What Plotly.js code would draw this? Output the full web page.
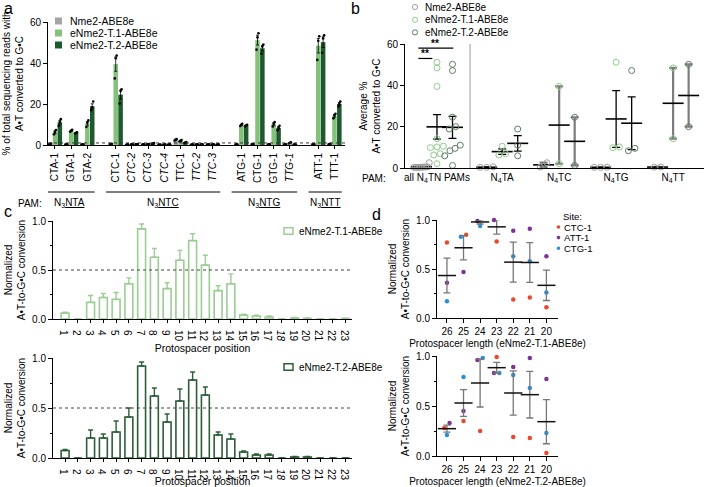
<!DOCTYPE html>
<html><head><meta charset="utf-8">
<script src="https://cdn.plot.ly/plotly-3.0.1.min.js"></script>
<style>html,body{margin:0;padding:0;background:#fff}#chart{width:704px;height:487px}</style>
</head><body><div id="chart"></div>
<script>
// ---------------- Panel a data ----------------
const sites = ["CTA-1","GTA-1","GTA-2","CTC-1","CTC-2","CTC-3","CTC-4","TTC-1","TTC-2","TTC-3","ATG-1","CTG-1","GTG-1","TTG-1","ATT-1","TTT-1"];
const siteGroup = [0,0,0,1,1,1,1,1,1,1,2,2,2,2,3,3];
const siteIsN4TN = [1,1,1,1,0,0,0,1,0,0,1,1,1,0,1,1];
const pamGroupsA = ["N<sub>3</sub><u>NTA</u>","N<sub>3</sub><u>NTC</u>","N<sub>3</sub><u>NTG</u>","N<sub>3</sub><u>NTT</u>"];
const seriesNames = ["Nme2-ABE8e","eNme2-T.1-ABE8e","eNme2-T.2-ABE8e"];
const nme2Reps = [[0.4,0.6,0.7],[0.2,0.3,0.4],[0.2,0.3,0.4],[0.3,0.5,0.6],[0.1,0.2,0.3],[0.2,0.3,0.4],[0.1,0.2,0.2],[2.2,2.6,2.9],[0.1,0.2,0.3],[0.2,0.2,0.3],[0.2,0.3,0.4],[0.3,0.4,0.5],[0.2,0.3,0.4],[0.2,0.3,0.3],[0.3,0.4,0.5],[0.4,0.5,0.6]];
const t1Reps = [[5.2,6.4,7.3],[6.5,6.9,7.4],[8.8,10.8,12.0],[32.5,42.3,43.6],[0.2,0.3,0.4],[0.3,0.4,0.5],[0.1,0.2,0.3],[1.7,2.1,2.4],[0.2,0.3,0.3],[0.2,0.3,0.4],[9.3,9.8,10.4],[46.5,52.5,54.5],[9.0,10.4,11.2],[0.8,1.1,1.3],[41.5,50.8,53.0],[13.0,14.4,15.2]];
const t2Reps = [[9.3,11.2,12.6],[5.6,5.9,6.2],[17.0,18.4,21.2],[20.2,26.3,27.2],[0.3,0.4,0.5],[0.5,0.8,1.0],[0.2,0.3,0.3],[1.0,1.2,1.5],[0.2,0.3,0.4],[0.2,0.3,0.3],[9.1,9.5,9.9],[44.5,48.0,49.0],[7.2,8.4,9.4],[0.2,0.3,0.4],[45.0,52.0,53.5],[18.8,20.0,21.2]];
const backgroundLevel = 1;

// ---------------- Panel b groups ----------------
const pamGroupsB = ["all N<sub>4</sub>TN PAMs","N<sub>4</sub>TA","N<sub>4</sub>TC","N<sub>4</sub>TG","N<sub>4</sub>TT"];

// ---------------- Panel c data ----------------
const positions = [1,2,3,4,5,6,7,8,9,10,11,12,13,14,15,16,17,18,19,20,21,22,23];
const positionLabels = ["1","2","3","4","5","6","7","8","9","10","11","12","13","14","15","16","17","<i>18</i>","19","20","21","22","23"];
const t1Norm    = [0.06,0,0.17,0.22,0.20,0.36,0.92,0.63,0.31,0.60,0.80,0.55,0.29,0.36,0.04,0.03,0.02,0,0.01,0.005,0,0,0.005];
const t1NormErr = [0.01,0,0.07,0.04,0.07,0.06,0.05,0.09,0.06,0.10,0.07,0.10,0.05,0.10,0.01,0.01,0.01,0,0.005,0.005,0,0,0.003];
const t2Norm    = [0.075,0,0.20,0.20,0.26,0.41,0.92,0.62,0.36,0.57,0.78,0.63,0.23,0.19,0.06,0.03,0.03,0,0.01,0.01,0,0,0];
const t2NormErr = [0.01,0,0.08,0.04,0.11,0.09,0.04,0.08,0.08,0.12,0.08,0.08,0.03,0.05,0.01,0.01,0.01,0,0.005,0.005,0,0,0];

// ---------------- Panel d data ----------------
const dLengths = ["26","25","24","23","22","21","20"];
const dSites = ["CTC-1","ATT-1","CTG-1"];
const dT1CTC1 = [0.77,0.85,1.01,0.78,0.19,0.21,0.11];
const dT1ATT1 = [0.36,0.47,0.99,1.00,0.89,0.91,0.63];
const dT1CTG1 = [0.17,0.83,0.94,1.01,0.63,0.58,0.26];
const dT2CTC1 = [0.28,0.35,0.25,0.99,0.19,0.18,0.03];
const dT2ATT1 = [0.33,0.45,0.96,0.83,0.89,0.98,0.77];
const dT2CTG1 = [0.21,0.79,0.98,0.83,0.81,0.68,0.23];

// ---------------- helpers / styles ----------------
const W = 704, H = 487;
const px = p => p / W;
const py = p => 1 - p / H;
const FONT = 'Liberation Sans, Arial, Helvetica, sans-serif';
const BLACK = '#000';
const mean = a => a.reduce((s, v) => s + v, 0) / a.length;
const sem = a => { const m = mean(a); const v = a.reduce((s, x) => s + (x - m) * (x - m), 0) / (a.length - 1); return Math.sqrt(v / a.length); };
function spread(vals, thr, step, maxW) {
  const idx = vals.map((v, i) => i).sort((a, b) => vals[a] - vals[b]);
  const offs = new Array(vals.length).fill(0);
  if (!idx.length) return offs;
  let cluster = [idx[0]];
  const flush = () => { const n = cluster.length; const st = n > 1 ? Math.min(step, maxW / (n - 1)) : 0; cluster.forEach((j, k) => offs[j] = (k - (n - 1) / 2) * st); };
  for (let q = 1; q < idx.length; q++) {
    const j = idx[q];
    if (vals[j] - vals[cluster[cluster.length - 1]] < thr) cluster.push(j); else { flush(); cluster = [j]; }
  }
  flush();
  return offs;
}
const traces = [];
const shapes = [];
const annotations = [];
function note(text, xref, yref, x, y, size, xanchor) {
  annotations.push({text: text, xref: xref, yref: yref, x: x, y: y, showarrow: false,
    font: {size: size || 10, color: BLACK, family: FONT}, xanchor: xanchor || 'center', yanchor: 'middle'});
}
function legendText(text, x, y, size) { note(text, 'paper', 'paper', px(x), py(y), size, 'left'); }
function legendRect(x, y, w, h, fill, line, lw) {
  shapes.push({type: 'rect', xref: 'paper', yref: 'paper', x0: px(x - w / 2), x1: px(x + w / 2), y0: py(y + h / 2), y1: py(y - h / 2),
    fillcolor: fill, line: {color: line, width: lw || 0}});
}
function legendCircle(x, y, r, fill, line, lw) {
  shapes.push({type: 'circle', xref: 'paper', yref: 'paper', x0: px(x - r), x1: px(x + r), y0: py(y + r), y1: py(y - r),
    fillcolor: fill, line: {color: line, width: lw || 0}});
}

// ---------------- Panel a ----------------
const xposA = sites.map((s, i) => i + 0.75 * siteGroup[i]);
const siteLabelsA = sites.map((s, i) => siteIsN4TN[i] ? s : '<i>' + s + '</i>');
const aColors = ['#a3a3a3', '#84c27c', '#1e5a2d'];
const aOffsets = [-0.3, 0, 0.3];
[nme2Reps, t1Reps, t2Reps].forEach((reps, si) => {
  traces.push({type: 'bar', x: xposA, y: reps.map(mean), width: 0.28, offset: aOffsets[si] - 0.14,
    marker: {color: aColors[si], line: {width: 0}},
    error_y: {type: 'data', array: reps.map(sem), visible: true, color: BLACK, thickness: 0.8, width: 1.5},
    name: seriesNames[si], xaxis: 'x', yaxis: 'y', hoverinfo: 'skip'});
  const dxs = [], dys = [];
  reps.forEach((r, i) => r.forEach((v, k) => { dxs.push(xposA[i] + aOffsets[si] + (k - 1) * 0.06); dys.push(v); }));
  traces.push({type: 'scatter', mode: 'markers', x: dxs, y: dys, marker: {size: 2.6, color: BLACK},
    hoverinfo: 'skip', xaxis: 'x', yaxis: 'y', cliponaxis: false});
  legendRect(58.5, 21 + 12 * si, 7, 7, aColors[si], aColors[si], 0);
  legendText(seriesNames[si], 68, 21 + 12 * si, 10.5);
});
shapes.push({type: 'line', xref: 'x domain', yref: 'y', x0: 0, x1: 1, y0: backgroundLevel, y1: backgroundLevel, line: {color: '#333', width: 1, dash: 'dot'}});
pamGroupsA.forEach((g, gi) => {
  const xs = xposA.filter((x, i) => siteGroup[i] === gi);
  const x0 = Math.min(...xs) - 0.6, x1 = Math.max(...xs) + 0.45;
  shapes.push({type: 'line', xref: 'x', yref: 'paper', x0: x0, x1: x1, y0: py(192), y1: py(192), line: {color: BLACK, width: 1}});
  note(g, 'x', 'paper', (x0 + x1) / 2, py(203), 10);
});
note('PAM:', 'paper', 'paper', px(30), py(203), 10);

// ---------------- Panel b ----------------
const bCenter = g => g === 0 ? 0 : 4.2 + (g - 1) * 3.67;
const bColors = ['#a0a0a0', '#8fcb88', '#5c7e63'];
const bOffsets = [-1, 0, 1];
[nme2Reps, t1Reps, t2Reps].forEach((reps, si) => {
  const siteMeans = reps.map(mean);
  const ptx = [], pty = [];
  pamGroupsB.forEach((g, gi) => {
    const vals = siteMeans.filter((v, i) => siteIsN4TN[i] && (gi === 0 || siteGroup[i] === gi - 1));
    const offs = spread(vals, 2.6, 0.42, 1.0);
    vals.forEach((v, k) => { ptx.push(bCenter(gi) + bOffsets[si] + offs[k]); pty.push(v); });
    const few = vals.length < 3;
    traces.push({type: 'scatter', mode: 'markers', x: [bCenter(gi) + bOffsets[si]], y: [mean(vals)],
      marker: {symbol: 'line-ew', size: 15, color: BLACK, line: {width: 1.6, color: BLACK}},
      error_y: {type: 'data', array: [sem(vals)], visible: true, color: few ? '#7c7c7c' : BLACK, thickness: few ? 2.2 : 1.3, width: 4},
      xaxis: 'x2', yaxis: 'y2', cliponaxis: false, hoverinfo: 'skip'});
  });
  traces.push({type: 'scatter', mode: 'markers', x: ptx, y: pty, name: seriesNames[si],
    marker: {symbol: 'circle-open', size: 6, color: bColors[si], line: {width: 1, color: bColors[si]}},
    xaxis: 'x2', yaxis: 'y2', cliponaxis: false, hoverinfo: 'skip'});
  legendCircle(415, 7 + 12.7 * si, 2.6, 'rgba(0,0,0,0)', bColors[si], 1);
  legendText(seriesNames[si], 423, 7 + 12.7 * si, 10);
});
shapes.push({type: 'line', xref: 'x2', yref: 'y2', x0: 2.13, x1: 2.13, y0: 0, y1: 60, line: {color: '#9a9a9a', width: 1}});
shapes.push({type: 'line', xref: 'x2', yref: 'y2', x0: -1.2, x1: 1.05, y0: 58, y1: 58, line: {color: BLACK, width: 1.2}});
shapes.push({type: 'line', xref: 'x2', yref: 'y2', x0: -1.2, x1: -0.3, y0: 53, y1: 53, line: {color: BLACK, width: 1.2}});
annotations.push({text: '<b>**</b>', xref: 'x2', yref: 'y2', x: -0.1, y: 58, showarrow: false, font: {size: 10, color: BLACK}, yanchor: 'bottom', yshift: -3});
annotations.push({text: '<b>**</b>', xref: 'x2', yref: 'y2', x: -0.75, y: 53, showarrow: false, font: {size: 10, color: BLACK}, yanchor: 'bottom', yshift: -3});
note('PAM:', 'paper', 'paper', px(374), py(179), 10);

// ---------------- Panel c ----------------
const cColors = ['#9ccd94', '#2c5e37'];
[[t1Norm, t1NormErr, 'x3', 'y3', seriesNames[1], 231], [t2Norm, t2NormErr, 'x4', 'y4', seriesNames[2], 367]].forEach((c, ci) => {
  traces.push({type: 'bar', x: positions, y: c[0], width: 0.62, name: c[4],
    marker: {color: '#fff', line: {color: cColors[ci], width: 1.6}},
    error_y: {type: 'data', symmetric: false, array: c[1], arrayminus: c[1].map(() => 0), visible: true, color: cColors[ci], thickness: 1.4, width: 2.5},
    xaxis: c[2], yaxis: c[3], hoverinfo: 'skip'});
  shapes.push({type: 'line', xref: c[2] + ' domain', yref: c[3], x0: 0, x1: 1, y0: 0.5, y1: 0.5, line: {color: '#444', width: 1, dash: 'dot'}});
  legendRect(288.5, c[5], 9, 6.5, '#fff', cColors[ci], 1.5);
  legendText(c[4], 297, c[5], 10);
});

// ---------------- Panel d ----------------
const dColors = ['#e8482c', '#7b3394', '#2a8fdc'];
[[[dT1CTC1, dT1ATT1, dT1CTG1], 'x5', 'y5'], [[dT2CTC1, dT2ATT1, dT2CTG1], 'x6', 'y6']].forEach(p => {
  const sets = p[0];
  const offs = sets.map(() => []);
  dLengths.forEach((L, li) => {
    const vals = sets.map(s => s[li]);
    const o = spread(vals, 0.05, 0.32, 0.64);
    o.forEach((v, k) => offs[k][li] = v);
  });
  sets.forEach((s, k) => {
    traces.push({type: 'scatter', mode: 'markers', x: s.map((v, li) => li + offs[k][li]), y: s, name: dSites[k],
      marker: {size: 4.5, color: dColors[k]}, xaxis: p[1], yaxis: p[2], cliponaxis: false, hoverinfo: 'skip'});
  });
  const mv = dLengths.map((L, li) => mean(sets.map(s => s[li])));
  const ev = dLengths.map((L, li) => sem(sets.map(s => s[li])));
  traces.push({type: 'scatter', mode: 'markers', x: dLengths.map((L, li) => li), y: mv,
    marker: {symbol: 'line-ew', size: 13, color: BLACK, line: {width: 1.5, color: '#111'}},
    error_y: {type: 'data', array: ev, visible: true, color: '#777', thickness: 1.3, width: 3.5},
    xaxis: p[1], yaxis: p[2], cliponaxis: false, hoverinfo: 'skip'});
});
legendText('Site:', 561, 216, 9.5);
dSites.forEach((s, k) => {
  legendCircle(558.5, 227 + 10.6 * k, 1.8, dColors[k], dColors[k], 0);
  legendText(s, 562, 227 + 10.6 * k, 9.5);
});

// panel letters
[['a', 2, 8], ['b', 349, 8], ['c', 2, 211], ['d', 370, 215]].forEach(l => {
  note(l[0], 'paper', 'paper', px(l[1]), py(l[2]), 16, 'left');
});

// ---------------- layout ----------------
const axBase = {showline: true, linecolor: BLACK, linewidth: 1, ticks: 'outside', ticklen: 4, tickwidth: 1, tickcolor: BLACK,
  showgrid: false, zeroline: false, tickfont: {size: 10, family: FONT, color: BLACK}, fixedrange: true};
const yNorm = {tickvals: [0, 0.5, 1], ticktext: ['0.0', '0.5', '1.0'], range: [0, 1],
  minor: {dtick: 0.25, ticks: 'outside', ticklen: 2, tickcolor: BLACK}};
const normTitle = {text: 'Normalized<br>A•T-to-G•C conversion', font: {size: 10}, standoff: 4};
const layout = {
  width: W, height: H, margin: {l: 0, r: 0, t: 0, b: 0}, paper_bgcolor: '#fff', plot_bgcolor: 'rgba(0,0,0,0)',
  font: {family: FONT, size: 10, color: BLACK}, barmode: 'overlay', hovermode: false, showlegend: false,
  xaxis: {...axBase, domain: [px(48), px(345)], range: [-0.43, 17.9], tickvals: xposA, ticktext: siteLabelsA, tickangle: -90, ticklen: 3, anchor: 'y'},
  yaxis: {...axBase, domain: [py(145), py(22)], range: [0, 60], dtick: 20, anchor: 'x',
    title: {text: '% of total sequencing reads with<br>A•T converted to G•C', font: {size: 10}, standoff: 4}},
  xaxis2: {...axBase, domain: [px(405), 1], range: [-2.06, 17.2], tickvals: pamGroupsB.map((g, i) => bCenter(i)), ticktext: pamGroupsB, ticks: '', anchor: 'y2'},
  yaxis2: {...axBase, domain: [py(168), py(44)], range: [0, 60], dtick: 20, anchor: 'x2',
    title: {text: 'Average %<br>A•T converted to G•C', font: {size: 10}, standoff: 4}},
  xaxis3: {...axBase, domain: [px(53), px(352)], range: [0.05, 23.5], tickvals: positions, ticktext: positionLabels, ticklen: 3, anchor: 'y3',
    title: {text: 'Protospacer position', font: {size: 10.5}, standoff: 3}},
  yaxis3: {...axBase, ...yNorm, domain: [py(319), py(221)], anchor: 'x3', title: normTitle},
  xaxis4: {...axBase, domain: [px(53), px(352)], range: [0.05, 23.5], tickvals: positions, ticktext: positionLabels, ticklen: 3, anchor: 'y4',
    title: {text: 'Protospacer position', font: {size: 10.5}, standoff: 3}},
  yaxis4: {...axBase, ...yNorm, domain: [py(458), py(358)], anchor: 'x4', title: normTitle},
  xaxis5: {...axBase, domain: [px(437), px(558)], range: [-0.6, 6.7], tickvals: dLengths.map((L, i) => i), ticktext: dLengths, anchor: 'y5',
    title: {text: 'Protospacer length (eNme2-T.1-ABE8e)', font: {size: 10}, standoff: 3}},
  yaxis5: {...axBase, ...yNorm, domain: [py(318), py(220)], anchor: 'x5', title: normTitle},
  xaxis6: {...axBase, domain: [px(437), px(558)], range: [-0.6, 6.7], tickvals: dLengths.map((L, i) => i), ticktext: dLengths, anchor: 'y6',
    title: {text: 'Protospacer length (eNme2-T.2-ABE8e)', font: {size: 10}, standoff: 3}},
  yaxis6: {...axBase, ...yNorm, domain: [py(456), py(356)], anchor: 'x6', title: normTitle},
  shapes: shapes, annotations: annotations
};
Plotly.newPlot('chart', traces, layout, {displayModeBar: false, staticPlot: true});
</script></body></html>
